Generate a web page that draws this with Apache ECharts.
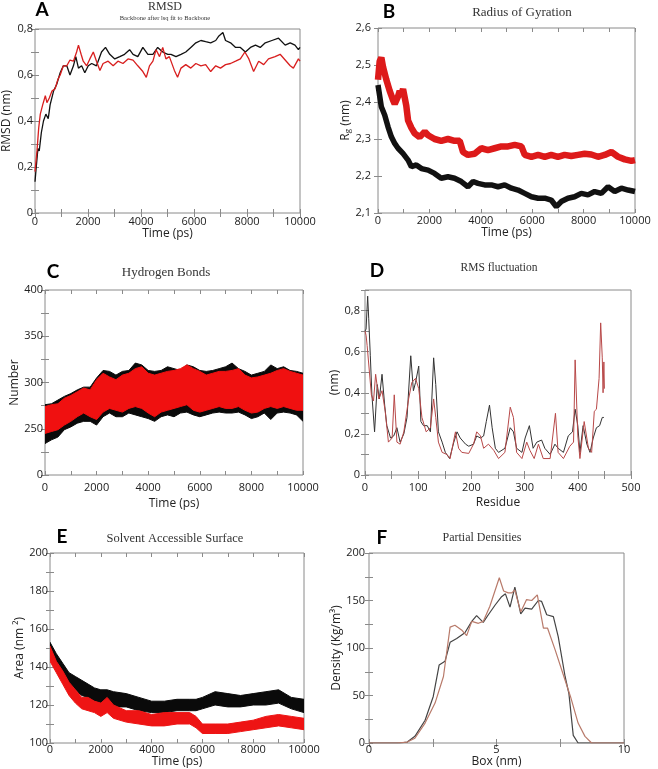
<!DOCTYPE html>
<html><head><meta charset="utf-8">
<script src="https://cdn.jsdelivr.net/npm/echarts@6/dist/echarts.min.js"></script>
<style>html,body{margin:0;padding:0;background:#fff}#c{width:658px;height:769px}</style>
</head><body><div id="c"></div>
<script>
// ---------- Panel A: RMSD ----------
const rmsdTimeBlack = [0,40,110,160,240,320,410,500,570,700,820,950,1070,1200,1320,1450,1540,1640,1760,1880,2010,2140,2320,2510,2660,2820,3010,3200,3380,3570,3700,3880,4070,4260,4450,4630,4820,5010,5130,5320,5510,5690,5880,6070,6260,6440,6630,6820,6940,7090,7190,7380,7570,7750,7940,8130,8320,8500,8690,8940,9190,9440,9630,9810,9940,10000];
const rmsdBlack = [0.136,0.19,0.28,0.27,0.35,0.40,0.43,0.41,0.47,0.53,0.56,0.61,0.64,0.64,0.60,0.64,0.68,0.63,0.64,0.61,0.64,0.65,0.64,0.70,0.72,0.69,0.67,0.68,0.69,0.71,0.69,0.68,0.72,0.69,0.69,0.72,0.70,0.69,0.69,0.68,0.69,0.70,0.72,0.74,0.75,0.745,0.74,0.75,0.77,0.785,0.75,0.74,0.72,0.72,0.70,0.72,0.73,0.72,0.74,0.75,0.76,0.73,0.74,0.73,0.71,0.72];
const rmsdTimeRed = [0,75,140,200,290,390,450,540,640,760,860,950,1070,1200,1320,1450,1570,1640,1740,1820,1950,2070,2200,2320,2450,2570,2760,2950,3130,3320,3510,3700,3880,4070,4200,4320,4450,4570,4700,4820,4940,5070,5260,5380,5510,5690,5880,6070,6260,6440,6630,6820,7000,7190,7380,7570,7750,7920,8070,8250,8440,8630,8810,9060,9250,9440,9630,9750,9940,10000];
const rmsdRed = [0.18,0.27,0.37,0.43,0.47,0.51,0.48,0.50,0.53,0.54,0.58,0.60,0.64,0.64,0.665,0.66,0.70,0.73,0.69,0.66,0.64,0.67,0.70,0.66,0.62,0.65,0.66,0.64,0.66,0.65,0.67,0.665,0.64,0.615,0.59,0.64,0.66,0.71,0.68,0.72,0.67,0.68,0.62,0.59,0.63,0.645,0.63,0.65,0.64,0.645,0.615,0.64,0.63,0.645,0.65,0.66,0.67,0.70,0.67,0.615,0.66,0.645,0.67,0.68,0.69,0.665,0.64,0.63,0.67,0.66];

// ---------- Panel B: Radius of gyration ----------
const rgTimeBlack = [0,130,260,390,520,650,780,970,1170,1300,1490,1690,1950,2200,2460,2720,2980,3240,3500,3700,3890,4150,4410,4670,4930,5190,5450,5710,5970,6230,6490,6740,6940,7130,7390,7650,7910,8170,8430,8690,8950,9210,9470,9730,10000];
const rgBlack = [2.446,2.387,2.365,2.333,2.306,2.288,2.275,2.261,2.243,2.225,2.23,2.22,2.216,2.207,2.194,2.198,2.194,2.185,2.171,2.185,2.18,2.176,2.176,2.171,2.176,2.167,2.162,2.153,2.144,2.14,2.14,2.135,2.117,2.131,2.14,2.144,2.153,2.149,2.158,2.153,2.171,2.158,2.167,2.162,2.158];
const rgTimeRed = [0,65,130,195,325,455,585,650,780,845,910,975,1100,1170,1300,1430,1620,1820,1950,2200,2460,2720,2980,3180,3310,3500,3760,4020,4280,4540,4800,5060,5320,5580,5710,5970,6230,6490,6740,7000,7260,7520,7780,8040,8300,8560,8820,9080,9340,9600,9860,10000];
const rgRed = [2.46,2.51,2.52,2.495,2.46,2.43,2.405,2.395,2.415,2.43,2.42,2.435,2.39,2.35,2.33,2.315,2.305,2.32,2.31,2.30,2.295,2.30,2.295,2.295,2.265,2.257,2.26,2.275,2.27,2.275,2.28,2.28,2.284,2.28,2.257,2.252,2.257,2.252,2.257,2.252,2.257,2.254,2.257,2.26,2.258,2.252,2.257,2.265,2.252,2.245,2.241,2.243];

// ---------- Panel C: Hydrogen bonds (band envelopes) ----------
const hbTime = [0,250,500,750,1000,1250,1500,1750,2000,2250,2500,2750,3000,3250,3500,3750,4000,4250,4500,4750,5000,5250,5500,5750,6000,6250,6500,6750,7000,7250,7500,7750,8000,8250,8500,8750,9000,9250,9500,9750,10000];
const hbBlackUpper = [276,277,281,285,288,292,295,295,305,313,312,308,312,313,321,319,313,312,313,317,315,313,319,317,313,312,313,315,317,321,315,312,308,310,312,319,315,317,313,312,310];
const hbBlackLower = [234,238,241,249,252,256,258,258,254,263,267,263,263,267,265,263,261,258,263,265,263,267,268,265,263,265,267,268,267,267,268,265,261,263,267,260,267,268,267,265,258];
const hbRedUpper = [274,276,277,283,286,290,294,292,303,310,306,303,308,310,315,317,310,308,310,312,313,315,319,315,312,308,310,312,312,313,315,308,305,306,308,310,313,315,312,310,308];
const hbRedLower = [245,247,249,254,258,263,267,263,260,268,272,270,268,272,274,272,267,263,268,270,272,274,276,270,268,270,272,274,272,272,274,270,267,268,272,274,272,274,272,270,270];

// ---------- Panel D: RMS fluctuation ----------
const rmsfResBlack = [0,2,5,7,10,13,18,23,27,32,37,41,48,54,60,66,73,79,86,91,95,101,105,110,117,123,129,133,138,145,151,159,167,173,179,189,195,204,210,217,223,228,234,239,245,251,254,263,273,279,285,295,301,309,316,323,332,338,348,357,363,373,382,390,395,400,404,410,417,423,429,435,441,446,449];
const rmsfBlack = [0.70,0.71,0.87,0.76,0.58,0.39,0.21,0.44,0.37,0.49,0.34,0.24,0.18,0.19,0.23,0.16,0.20,0.28,0.58,0.41,0.45,0.53,0.26,0.24,0.24,0.21,0.57,0.44,0.21,0.16,0.11,0.08,0.16,0.21,0.18,0.15,0.14,0.15,0.19,0.18,0.19,0.26,0.34,0.23,0.13,0.11,0.11,0.13,0.23,0.21,0.13,0.11,0.18,0.24,0.13,0.16,0.17,0.13,0.10,0.15,0.13,0.11,0.19,0.21,0.32,0.24,0.11,0.24,0.15,0.11,0.18,0.23,0.24,0.28,0.28];
const rmsfResRed = [0,2,4,7,12,16,20,26,32,38,44,51,55,60,66,73,82,88,95,101,107,115,123,129,133,138,145,154,160,170,176,182,195,204,210,217,223,232,242,251,254,263,273,279,285,295,304,310,318,326,335,348,358,363,373,385,392,395,400,404,412,420,426,431,435,440,443,446,447.5,449,450];
const rmsfRed = [0.70,0.68,0.63,0.54,0.39,0.36,0.49,0.37,0.41,0.31,0.16,0.18,0.39,0.16,0.15,0.21,0.37,0.45,0.47,0.42,0.28,0.21,0.23,0.37,0.28,0.16,0.11,0.10,0.08,0.21,0.13,0.11,0.105,0.15,0.21,0.19,0.13,0.15,0.12,0.08,0.08,0.11,0.33,0.28,0.11,0.08,0.16,0.12,0.08,0.15,0.08,0.08,0.30,0.11,0.08,0.14,0.16,0.56,0.19,0.08,0.26,0.13,0.11,0.31,0.32,0.47,0.74,0.57,0.40,0.55,0.42];

// ---------- Panel E: SASA (band envelopes) ----------
const sasaTime = [0,250,500,750,1000,1250,1500,1750,2000,2250,2500,3000,3500,4000,4500,5000,5500,5750,6000,6500,7000,7500,8000,8500,9000,9500,10000];
const sasaBlackUpper = [153,147,142,137,135,133,131,129,128,128,127,126,124,122,122,123,123,123,124,127,126,125,126,127,128,124,123];
const sasaBlackLower = [145,140,135,130,128,125,124,122,121,120,119,119,117,116,116,117,117,117,118,120,119,119,120,120,121,118,116];
const sasaRedUpper = [151,143,138,132,128,124,124,122,121,124,120,117,117,115,116,116,116,114,110,110,110,111,112,114,115,114,113];
const sasaRedLower = [143,137,131,125,121,118,117,116,114,116,113,111,110,109,109,110,110,108,105,105,105,106,107,108,109,108,107];

// ---------- Panel F: Partial densities ----------
const boxBlack = [0,1.2,1.5,1.8,2.2,2.52,2.75,2.98,3.18,3.44,3.76,4.03,4.22,4.48,4.68,4.94,5.2,5.35,5.53,5.72,5.95,6.12,6.38,6.64,6.77,6.97,7.23,7.42,7.69,7.84,8.01,8.2,10];
const densBlack = [0,0,1,7,24,49,82,86,106,110,116,128,134,127,135,145,154,157,143,164,136,142,141,150,149,135,133,112,70,52,8,0,0];
const boxRed = [0,1.1,1.5,1.8,2.2,2.59,2.92,3.18,3.37,3.63,3.83,4.03,4.29,4.48,4.74,5.11,5.28,5.46,5.6,5.72,5.95,6.18,6.38,6.6,6.84,7.0,7.3,7.69,7.9,8.2,8.47,8.73,10];
const densRed = [0,0,1,5,21,42,70,122,124,119,113,128,126,128,144,174,160,158,158,161,138,151,150,156,121,121,98,66,49,21,7,0,0];

// ---------- Tick label texts ----------
const yLabelC = {200:'0', 250:'250', 300:'300', 350:'350', 400:'400'};

const pairs = (xs, ys) => xs.map((x, i) => [x, ys[i]]);
const FONT = 'Open Sans';
const SERIF = 'Liberation Serif';
const TICK = '#8a8a8a';
const comma = v => String(+v.toFixed(3)).replace('.', ',');

function every(step, fmt) {
  return v => {
    const k = v / step;
    if (Math.abs(k - Math.round(k)) > 1e-6) return '';
    return fmt ? fmt(v) : String(Math.round(v));
  };
}

const xAxes = [], yAxes = [], grids = [], series = [];
function panel(g, xc, yc) {
  const gi = grids.length;
  grids.push({left:g[0], top:g[1], width:g[2], height:g[3], show:true, borderColor:'#8a8a8a', borderWidth:1, backgroundColor:'transparent'});
  const tick = {show:true, inside:true, length:4, lineStyle:{color:TICK, width:1}};
  const base = {gridIndex:gi, type:'value', splitLine:{show:false}, axisLine:{show:false}, axisTick:tick};
  xAxes.push(Object.assign({}, base, {min:xc.min, max:xc.max, interval:xc.tick, position:'bottom',
    axisLabel:{fontFamily:FONT, fontSize:11, color:'#222', margin:xc.margin, formatter:xc.fmt, showMinLabel:true, showMaxLabel:true},
    name:xc.name, nameLocation:'middle', nameGap:xc.gap, nameTextStyle:{fontFamily:FONT, fontSize:12, color:'#222'}}));
  xAxes.push(Object.assign({}, base, {min:xc.min, max:xc.max, interval:xc.tick, position:'top', axisLabel:{show:false}}));
  yAxes.push(Object.assign({}, base, {min:yc.min, max:yc.max, interval:yc.tick, position:'left',
    axisLabel:{fontFamily:FONT, fontSize:11, color:'#222', margin:yc.margin, formatter:yc.fmt},
    name:yc.name, nameLocation:'middle', nameGap:yc.gap, nameRotate:90,
    nameTextStyle:Object.assign({fontFamily:FONT, fontSize:12, color:'#222'}, yc.nameStyle || {})}));
  yAxes.push(Object.assign({}, base, {min:yc.min, max:yc.max, interval:yc.tick, position:'right', axisLabel:{show:false}}));
  return {x: 2*gi, y: 2*gi};
}
function line(ax, xs, ys, color, width) {
  series.push({type:'line', xAxisIndex:ax.x, yAxisIndex:ax.y, data:pairs(xs, ys), showSymbol:false, symbol:'none',
    lineStyle:{color, width}, clip:true, silent:true});
}
function band(ax, xs, up, lo, color) {
  series.push({type:'custom', xAxisIndex:ax.x, yAxisIndex:ax.y, data:[[xs[0], lo[0]]], clip:true, silent:true,
    renderItem: (params, api) => {
      const pts = [];
      for (let i = 0; i < xs.length; i++) pts.push(api.coord([xs[i], up[i]]));
      for (let i = xs.length - 1; i >= 0; i--) pts.push(api.coord([xs[i], lo[i]]));
      return {type:'polygon', shape:{points:pts}, style:{fill:color, stroke:color, lineWidth:1}};
    }});
}

// A
const aA = panel([33,29,267,184],
  {min:0, max:10000, tick:1000, fmt:every(2000), margin:3, name:'Time (ps)', gap:14},
  {min:0, max:0.8, tick:0.1, fmt:every(0.2, comma), margin:2, name:'RMSD (nm)', gap:22});
line(aA, rmsdTimeBlack, rmsdBlack, '#111', 1.3);
line(aA, rmsdTimeRed, rmsdRed, '#d81e1e', 1.3);
// B
const aB = panel([378,28,257,185],
  {min:0, max:10000, tick:1000, fmt:every(2000), margin:2, name:'Time (ps)', gap:13},
  {min:2.1, max:2.6, tick:0.1, fmt:every(0.1, comma), margin:7, name:'R{s|g} (nm)', gap:21,
   nameStyle:{rich:{s:{fontFamily:FONT, fontSize:8, color:'#222', padding:[0,0,-5,0]}}}});
line(aB, rgTimeBlack, rgBlack, '#111', 5.5);
line(aB, rgTimeRed, rgRed, '#dd1a1a', 6.5);
// C
const aC = panel([45,290,258,185],
  {min:0, max:10000, tick:1000, fmt:every(2000), margin:7, name:'Time (ps)', gap:23},
  {min:200, max:400, tick:25, fmt:v => yLabelC[v] || '', margin:2, name:'Number', gap:21});
band(aC, hbTime, hbBlackUpper, hbBlackLower, '#0a0a0a');
band(aC, hbTime, hbRedUpper, hbRedLower, '#f01010');
// D
const aD = panel([365,290,266,185],
  {min:0, max:500, tick:50, fmt:every(100), margin:7, name:'Residue', gap:22},
  {min:0, max:0.9, tick:0.1, fmt:every(0.2, comma), margin:5, name:'(nm)', gap:21});
line(aD, rmsfResBlack, rmsfBlack, '#333', 1);
line(aD, rmsfResRed, rmsfRed, '#b84848', 1);
// E
const aE = panel([50,553,254,190],
  {min:0, max:10000, tick:1000, fmt:every(2000), margin:1, name:'Time (ps)', gap:13},
  {min:100, max:200, tick:10, fmt:every(20), margin:2, name:'Area (nm \u00b2)', gap:20});
band(aE, sasaTime, sasaBlackUpper, sasaBlackLower, '#0a0a0a');
band(aE, sasaTime, sasaRedUpper, sasaRedLower, '#ee1414');
// F
const aF = panel([369,553,255,190],
  {min:0, max:10, tick:2.5, fmt:every(5), margin:1, name:'Box (nm)', gap:13},
  {min:0, max:200, tick:25, fmt:every(50), margin:4, name:'Density (Kg/m\u00b3)', gap:26});
line(aF, boxBlack, densBlack, '#444', 1.2);
line(aF, boxRed, densRed, '#b87a6a', 1.2);

const tStyle = size => ({fontFamily:SERIF, fontSize:size, fontWeight:'normal', color:'#333'});
const lStyle = {fontFamily:'Lato', fontSize:19, fontWeight:'bold', color:'#000'};
const titles = [
  {text:'RMSD', subtext:'Backbone after lsq fit to Backbone', left:165, top:1, textAlign:'center', padding:0, itemGap:2,
   textStyle:tStyle(12), subtextStyle:{fontFamily:SERIF, fontSize:6.5, color:'#333'}},
  {text:'Radius of Gyration', left:522, top:6, textAlign:'center', padding:0, textStyle:tStyle(13)},
  {text:'Hydrogen Bonds', left:166, top:266, textAlign:'center', padding:0, textStyle:tStyle(13)},
  {text:'RMS fluctuation', left:499, top:262, textAlign:'center', padding:0, textStyle:tStyle(11.5)},
  {text:'Solvent Accessible Surface', left:175, top:532, textAlign:'center', padding:0, textStyle:tStyle(12.5)},
  {text:'Partial Densities', left:482, top:532, textAlign:'center', padding:0, textStyle:tStyle(12)},
  {text:'A', left:42, top:0, textAlign:'center', padding:0, textStyle:lStyle},
  {text:'B', left:389, top:2, textAlign:'center', padding:0, textStyle:lStyle},
  {text:'C', left:53, top:262, textAlign:'center', padding:0, textStyle:lStyle},
  {text:'D', left:377, top:261, textAlign:'center', padding:0, textStyle:lStyle},
  {text:'E', left:62, top:527, textAlign:'center', padding:0, textStyle:lStyle},
  {text:'F', left:382, top:528, textAlign:'center', padding:0, textStyle:lStyle}
];

const chart = echarts.init(document.getElementById('c'), null, {renderer:'canvas'});
chart.setOption({animation:false, backgroundColor:'#fff', title:titles, grid:grids, xAxis:xAxes, yAxis:yAxes, series});
</script></body></html>
